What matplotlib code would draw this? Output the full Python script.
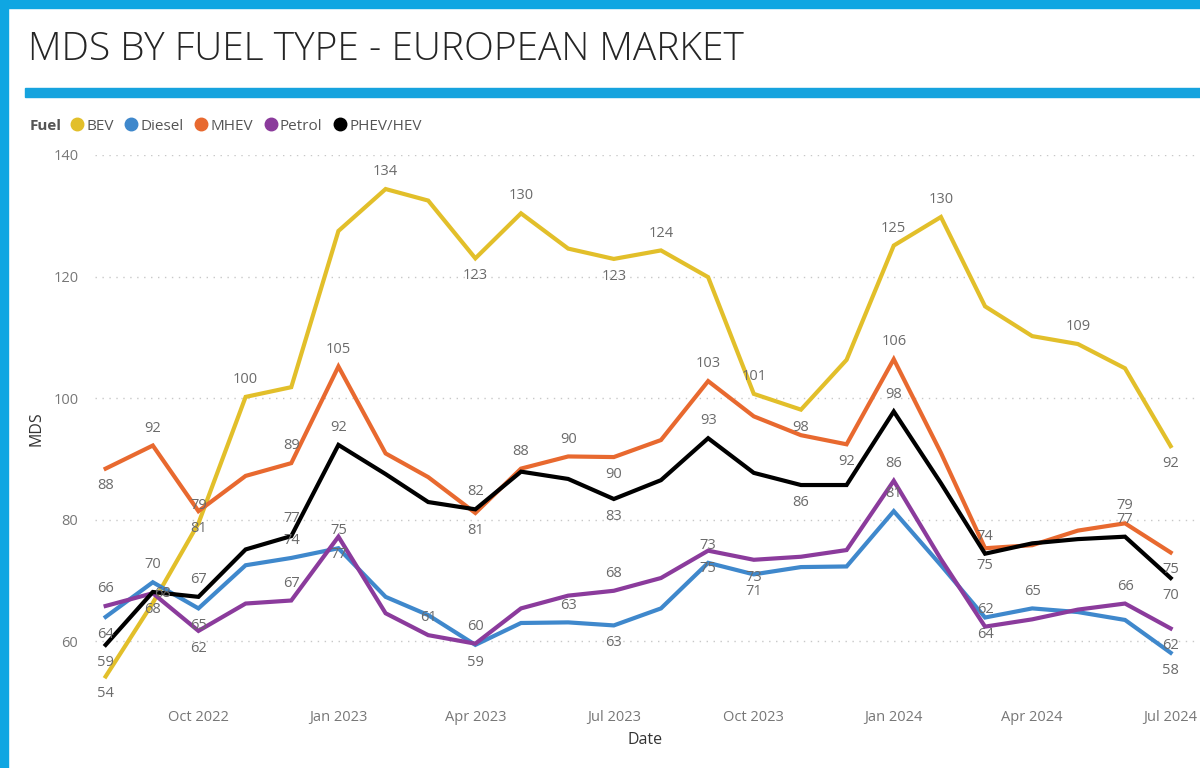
import matplotlib
matplotlib.use("Agg")
import matplotlib.pyplot as plt
import matplotlib.dates as mdates
from matplotlib.lines import Line2D
from matplotlib.patches import Rectangle
import pandas as pd

# monthly data, Aug 2022 - Jul 2024
months = pd.date_range("2022-08-01", periods=24, freq="MS")

bev = [54.2, 66.3, 79.4, 100.2, 101.8, 127.5, 134.4, 132.5, 123.0, 130.4, 124.6, 122.9,
       124.3, 119.9, 100.7, 98.1, 106.3, 125.1, 129.8, 115.1, 110.2, 108.9, 104.9, 92.1]
diesel = [64.0, 69.7, 65.4, 72.5, 73.7, 75.3, 67.3, 64.3, 59.4, 63.0, 63.1, 62.6,
          65.4, 72.9, 71.0, 72.2, 72.3, 81.4, 72.5, 63.9, 65.4, 64.8, 63.5, 58.1]
mhev = [88.4, 92.2, 81.4, 87.2, 89.3, 105.2, 90.9, 87.0, 81.1, 88.4, 90.4, 90.3,
        93.1, 102.8, 97.0, 93.9, 92.4, 106.4, 91.0, 75.3, 75.8, 78.2, 79.4, 74.6]
petrol = [65.8, 67.9, 61.7, 66.2, 66.7, 77.2, 64.6, 61.0, 59.6, 65.4, 67.5, 68.3,
          70.4, 74.9, 73.4, 73.9, 75.0, 86.4, 73.5, 62.4, 63.6, 65.2, 66.2, 62.1]
phev = [59.4, 68.1, 67.3, 75.1, 77.3, 92.3, 87.5, 82.9, 81.7, 87.9, 86.7, 83.4,
        86.5, 93.4, 87.7, 85.7, 85.7, 97.8, 86.0, 74.4, 76.1, 76.8, 77.2, 70.4]

series_names = ["BEV", "Diesel", "MHEV", "Petrol", "PHEV/HEV"]
series_vals = [bev, diesel, mhev, petrol, phev]
colors = ["#E2BF2A", "#3F88CC", "#E8692F", "#8B3B9C", "#000000"]

# which points carry a data label: (index, +1 above / -1 below / 0 on point)
label_spots = {
    "BEV": [(0, -1), (2, 1), (3, 1), (6, 1), (8, -1), (9, 1), (11, -1), (12, 1), (14, 1),
            (15, -1), (17, 1), (18, 1), (21, 1), (23, -1)],
    "Diesel": [(0, -1), (1, 1), (2, -1), (4, 1), (5, 1), (8, -1), (10, 1), (11, -1), (13, 1),
               (14, -1), (17, 1), (19, -1), (20, 1), (23, -1)],
    "MHEV": [(0, -1), (1, 1), (2, -1), (4, 1), (5, 1), (8, -1), (9, 1), (10, 1), (11, -1),
             (13, 1), (16, -1), (17, 1), (19, -1), (22, 1), (23, -1)],
    "Petrol": [(0, 1), (1, 0), (2, -1), (4, 1), (5, -1), (7, 1), (8, 1), (11, 1), (13, -1),
               (14, -1), (17, 1), (19, 1), (22, 1), (23, -1)],
    "PHEV/HEV": [(0, -1), (1, -1), (2, 1), (4, 1), (5, 1), (8, 1), (11, -1), (13, 1), (15, -1),
                 (17, 1), (19, 1), (22, 1), (23, -1)],
}

plt.rcParams["font.family"] = ["Open Sans", "DejaVu Sans"]

fig = plt.figure(figsize=(12, 7.68), dpi=100)
frame_blue = "#0FA6E2"
# blue frame strips and title underline
fig.patches.append(Rectangle((0, 0), 8 / 1200, 1, transform=fig.transFigure, color=frame_blue, zorder=0))
fig.patches.append(Rectangle((0, 1 - 8 / 768), 1, 8 / 768, transform=fig.transFigure, color=frame_blue, zorder=0))
fig.patches.append(Rectangle((25 / 1200, 1 - 97 / 768), 1, 9 / 768, transform=fig.transFigure,
                             color="#16A3DE", zorder=0))

fig.text(28 / 1200, 1 - 50 / 768, "MDS BY FUEL TYPE - EUROPEAN MARKET", fontsize=28,
         fontweight="light", color="#252525", va="center", ha="left")

ax = fig.add_axes([95 / 1200, 1 - 702 / 768, 1100 / 1200, 547 / 768])

for name, vals, c in zip(series_names, series_vals, colors):
    ax.plot(months, vals, color=c, lw=3, solid_joinstyle="miter", zorder=3)
    for i, d in label_spots[name]:
        dx = 7 if d == 0 else 0
        ax.annotate(f"{round(vals[i])}", (months[i], vals[i]), xytext=(dx, 12.5 * d),
                    textcoords="offset points", ha="center", va="center",
                    fontsize=10.5, color="#6B6B6B", zorder=4)

ax.set_ylim(50, 140)
ax.set_yticks([60, 80, 100, 120, 140])
ax.set_xlim(pd.Timestamp("2022-07-25"), pd.Timestamp("2024-07-17"))
ax.xaxis.set_major_locator(mdates.MonthLocator(bymonth=[1, 4, 7, 10]))
ax.xaxis.set_major_formatter(mdates.DateFormatter("%b %Y"))
ax.set_xticks([t for t in ax.get_xticks() if t >= mdates.date2num(pd.Timestamp("2022-09-01"))])
ax.grid(axis="y", linestyle=(0, (1, 4)), color="#C8C8C8", lw=1)
ax.set_axisbelow(True)
for s in ax.spines.values():
    s.set_visible(False)
ax.tick_params(length=0, labelsize=10.5, labelcolor="#777777")
ax.tick_params(axis="y", pad=12)
ax.tick_params(axis="x", pad=6)
ax.set_xlabel("Date", fontsize=11.5, color="#333333", labelpad=5)
ax.set_ylabel("MDS", fontsize=11.5, color="#333333", labelpad=6)

# legend row
fig.text(30 / 1200, 1 - 126 / 768, "Fuel", fontsize=11, fontweight="bold", color="#555555",
         va="center", ha="left")
handles = [Line2D([], [], ls="", marker="o", markersize=9, color=c) for c in colors]
fig.legend(handles, series_names, loc="center left", bbox_to_anchor=(68 / 1200, 1 - 126 / 768),
           ncol=5, frameon=False, handletextpad=0.0, columnspacing=0.55, handlelength=1.2,
           borderaxespad=0, borderpad=0, prop={"size": 11}, labelcolor="#555555")

fig.savefig("out.png", dpi=100)
